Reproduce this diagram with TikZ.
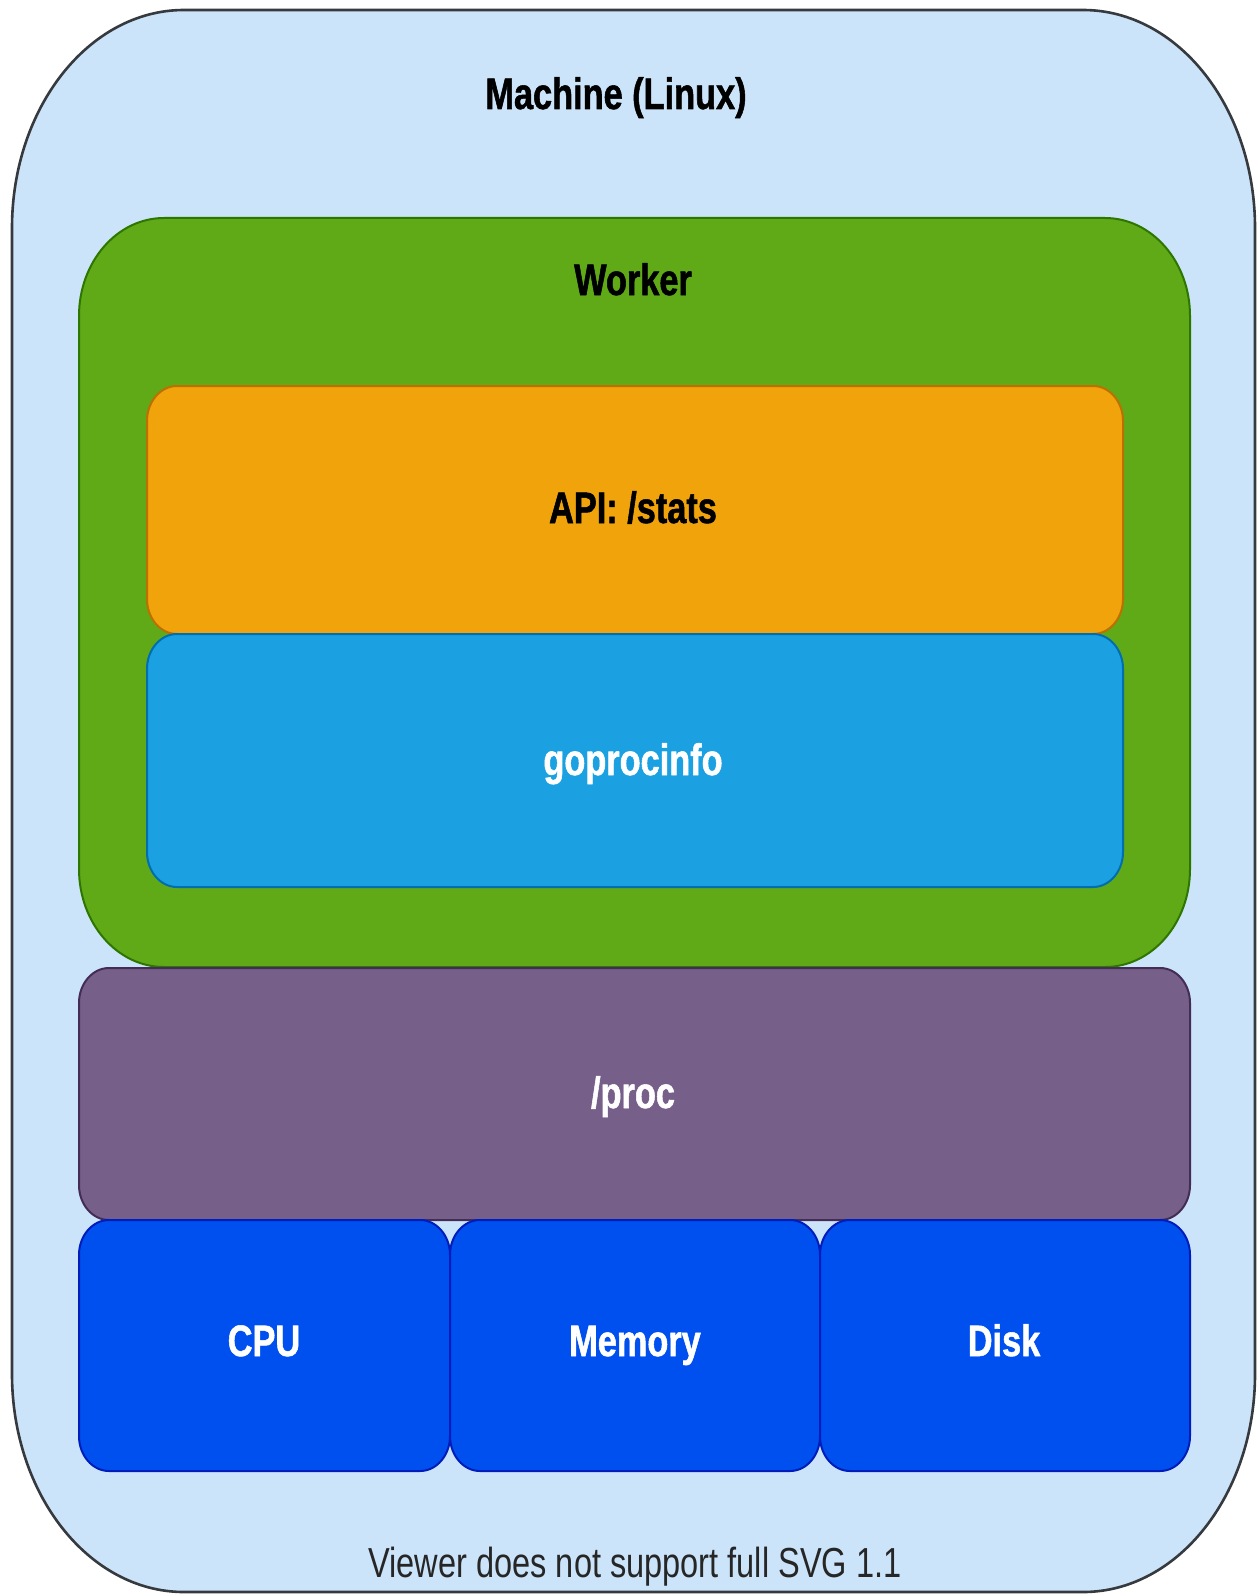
\documentclass[tikz,border=0pt]{standalone}
\usepackage{fontspec}
\setmainfont{Liberation Sans}
\newfontfamily\titlefont[FakeStretch=0.78,FakeBold=1.2]{Liberation Sans}
\newfontfamily\notefont[FakeStretch=0.775]{Liberation Sans}

\definecolor{machinefill}{HTML}{CCE4FA}
\definecolor{machineline}{HTML}{36393D}
\definecolor{workerfill}{HTML}{60A917}
\definecolor{workerline}{HTML}{2D7600}
\definecolor{apifill}{HTML}{F0A30A}
\definecolor{apiline}{HTML}{BD7000}
\definecolor{gpifill}{HTML}{1BA1E2}
\definecolor{gpiline}{HTML}{006EAF}
\definecolor{procfill}{HTML}{76608A}
\definecolor{procline}{HTML}{432D57}
\definecolor{hwfill}{HTML}{0050EF}
\definecolor{hwline}{HTML}{001DBC}

% rounded box with elliptic corners: x1,y1,x2,y2,rx,ry (y grows downward)
\newcommand\ebox[7][]{%
  \path[#1] ({#2+#6},#3) -- ({#4-#6},#3)
    arc[start angle=90,end angle=0,x radius=#6pt,y radius=#7pt]
    -- (#4,{#5-#7})
    arc[start angle=0,end angle=-90,x radius=#6pt,y radius=#7pt]
    -- ({#2+#6},#5)
    arc[start angle=-90,end angle=-180,x radius=#6pt,y radius=#7pt]
    -- (#2,{#3+#7})
    arc[start angle=180,end angle=90,x radius=#6pt,y radius=#7pt]
    -- cycle;}

\tikzset{
  layer/.style={line width=2pt},
  title/.style={anchor=base,inner sep=0pt,font=\titlefont\bfseries\fontsize{44}{44}\selectfont},
  darktitle/.style={title,text=black},
  lighttitle/.style={title,text=white},
  note/.style={anchor=base,inner sep=0pt,text=black!85,font=\notefont\fontsize{42}{42}\selectfont}
}

\begin{document}
\begin{tikzpicture}[x=1pt,y=-1pt]
\useasboundingbox (0,0) rectangle (1257,1594);
\fill[white] (0,0) rectangle (1257,1594);

% machine
\ebox[fill=machinefill,draw=machineline,line width=2.6pt]{12}{10}{1255}{1592}{172}{218}
% worker process
\ebox[layer,fill=workerfill,draw=workerline]{79}{218}{1190}{967}{85}{98}
\ebox[layer,fill=apifill,draw=apiline]{147}{386}{1123}{634}{30}{35}
\ebox[layer,fill=gpifill,draw=gpiline]{147}{634}{1123}{887}{30}{35}
% kernel interface
\ebox[layer,fill=procfill,draw=procline]{79}{968}{1190}{1220}{30}{35}
% hardware
\ebox[layer,fill=hwfill,draw=hwline]{79}{1220}{450}{1471}{30}{35}
\ebox[layer,fill=hwfill,draw=hwline]{450}{1220}{820}{1471}{30}{35}
\ebox[layer,fill=hwfill,draw=hwline]{820}{1220}{1190}{1471}{30}{35}

\node[darktitle] (machine) at (616,109) {Machine (Linux)};
\node[darktitle] (worker) at (633,295) {Worker};
\node[darktitle] (api) at (633,523) {API: /stats};
\node[lighttitle] (goprocinfo) at (633,775) {goprocinfo};
\node[lighttitle] (proc) at (633,1108) {/proc};
\node[lighttitle] (cpu) at (264,1356) {CPU};
\node[lighttitle] (memory) at (635,1356) {Memory};
\node[lighttitle] (disk) at (1004,1356) {Disk};
\node[note] (viewer) at (635,1577) {Viewer does not support full SVG 1.1};
\end{tikzpicture}
\end{document}
